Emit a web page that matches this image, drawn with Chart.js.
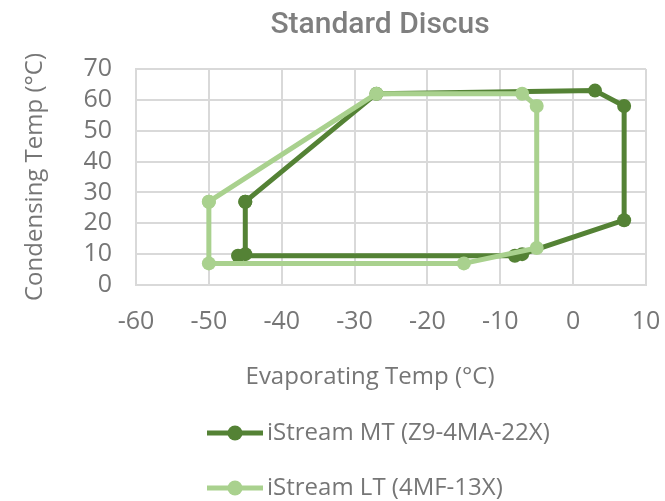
<!DOCTYPE html>
<html>
<head>
<meta charset="utf-8">
<script src="https://cdn.jsdelivr.net/npm/chart.js@4"></script>
<style>
  html, body { margin: 0; padding: 0; background: #ffffff; overflow: hidden; }
  #wrap { width: 665px; height: 510px; }
</style>
</head>
<body>
<div id="wrap"><canvas id="c" width="665" height="510"></canvas></div>
<script>
// ---- Data ----
const chartTitle = "Standard Discus";
const xAxisTitle = "Evaporating Temp (°C)";
const yAxisTitle = "Condensing Temp (°C)";

const seriesNames = ["iStream MT (Z9-4MA-22X)", "iStream LT (4MF-13X)"];

const mtX = [-45, -27, 3, 7, 7, -7, -8, -46, -45, -45];
const mtY = [27, 62, 63, 58, 21, 10, 9.5, 9.5, 10, 27];

const ltX = [-50, -27, -7, -5, -5, -15, -50, -50];
const ltY = [27, 62, 62, 58, 12, 7, 7, 27];

const xTicks = [-60, -50, -40, -30, -20, -10, 0, 10];
const yTicks = [0, 10, 20, 30, 40, 50, 60, 70];

// ---- Styling ----
const darkGreen = "#548235";
const lightGreen = "#a9d18e";
const textGray = "#767676";
const gridGray = "#d9d9d9";

function pts(xs, ys) { return xs.map((x, i) => ({ x: x, y: ys[i] })); }

function legendIcon(color) {
  const W = 240, H = 16;
  const cv = document.createElement("canvas");
  cv.width = W; cv.height = H;
  const g = cv.getContext("2d");
  g.strokeStyle = color; g.lineWidth = 5;
  g.beginPath(); g.moveTo(W - 56, H / 2); g.lineTo(W, H / 2); g.stroke();
  g.fillStyle = color;
  g.beginPath(); g.arc(W - 28, H / 2, 7.5, 0, Math.PI * 2); g.fill();
  return cv;
}
const icons = [legendIcon(darkGreen), legendIcon(lightGreen)];

const lineStyle = {
  showLine: true,
  borderWidth: 5,
  pointRadius: 7,
  pointBorderWidth: 0,
  pointHoverRadius: 7,
  borderJoinStyle: "round",
  borderCapStyle: "round"
};

// shift helper: draw a box's text offset horizontally
function shiftDraw(obj, method, dx) {
  if (obj.__shifted) return;
  const orig = obj[method].bind(obj);
  obj[method] = function () {
    const ctx = this.ctx;
    ctx.save(); ctx.translate(dx, 0);
    orig.apply(null, arguments);
    ctx.restore();
  };
  obj.__shifted = true;
}

const shiftPlugin = {
  id: "shiftTitles",
  afterLayout(chart) {
    if (chart.titleBlock) shiftDraw(chart.titleBlock, "draw", -11);
    if (chart.scales.x) shiftDraw(chart.scales.x, "drawTitle", -21);
  }
};

new Chart(document.getElementById("c"), {
  type: "scatter",
  plugins: [shiftPlugin],
  data: {
    datasets: [
      Object.assign({
        label: seriesNames[0],
        data: pts(mtX, mtY),
        borderColor: darkGreen,
        backgroundColor: darkGreen,
        order: 1
      }, lineStyle),
      Object.assign({
        label: seriesNames[1],
        data: pts(ltX, ltY),
        borderColor: lightGreen,
        backgroundColor: lightGreen,
        order: 0
      }, lineStyle)
    ]
  },
  options: {
    responsive: false,
    animation: false,
    devicePixelRatio: 1,
    layout: { padding: { left: 0, right: 0, top: 0, bottom: 0 } },
    plugins: {
      tooltip: { enabled: false },
      title: {
        display: true,
        fullSize: false,
        text: chartTitle,
        color: "#7f7f7f",
        font: { family: "Roboto, 'Open Sans', sans-serif", size: 30, weight: "500", lineHeight: 1.2 },
        padding: { top: 7, bottom: 26 }
      },
      legend: {
        display: true,
        position: "bottom",
        align: "start",
        labels: {
          usePointStyle: true,
          pointStyleWidth: 224,
          padding: 31,
          color: textGray,
          font: { family: "'Open Sans', sans-serif", size: 24 },
          generateLabels: function (chart) {
            const items = Chart.defaults.plugins.legend.labels.generateLabels(chart);
            items.sort((a, b) => a.datasetIndex - b.datasetIndex);
            items.forEach(it => { it.pointStyle = icons[it.datasetIndex]; });
            return items;
          }
        }
      }
    },
    scales: {
      x: {
        type: "linear",
        min: xTicks[0],
        max: xTicks[xTicks.length - 1],
        afterBuildTicks: s => { s.ticks = xTicks.map(v => ({ value: v })); },
        afterFit: s => { s.height = 105; s.paddingRight = 19; s.paddingLeft = 0; },
        grid: { color: gridGray, lineWidth: 2, drawTicks: false },
        border: { color: gridGray, width: 2 },
        ticks: {
          autoSkip: false,
          padding: 22,
          color: textGray,
          font: { family: "'Open Sans', sans-serif", size: 25, weight: "500" },
          maxRotation: 0
        },
        title: {
          display: true,
          text: xAxisTitle,
          color: textGray,
          font: { family: "'Open Sans', sans-serif", size: 24, lineHeight: 1.0 },
          padding: { top: 28, bottom: 1 }
        }
      },
      y: {
        type: "linear",
        min: yTicks[0],
        max: yTicks[yTicks.length - 1],
        afterBuildTicks: s => { s.ticks = yTicks.map(v => ({ value: v })); },
        afterFit: s => { s.width = 136; },
        grid: { color: gridGray, lineWidth: 2, drawTicks: false },
        border: { color: gridGray, width: 2 },
        ticks: {
          autoSkip: false,
          padding: 24,
          color: textGray,
          font: { family: "'Open Sans', sans-serif", size: 25, weight: "500" }
        },
        title: {
          display: true,
          text: yAxisTitle,
          color: textGray,
          font: { family: "'Open Sans', sans-serif", size: 24, lineHeight: 1.2 },
          padding: { top: 20.6, bottom: 10 }
        }
      }
    }
  }
});
</script>
</body>
</html>
